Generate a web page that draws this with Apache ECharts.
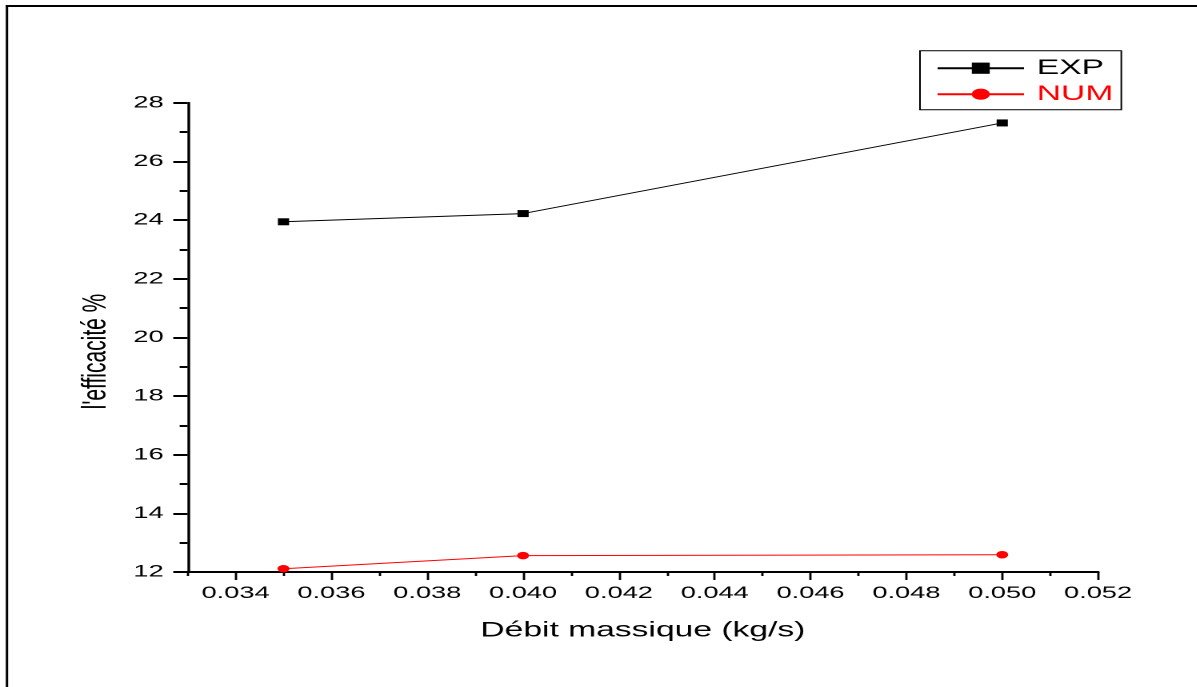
<!DOCTYPE html>
<html>
<head>
<meta charset="utf-8">
<script src="https://cdn.jsdelivr.net/npm/echarts@6/dist/echarts.min.js"></script>
<style>
  html, body { margin: 0; padding: 0; background: #fff; overflow: hidden; }
  /* the plot is laid out narrow and stretched sideways to the page width */
  #chart { width: 748.125px; height: 687px; transform: scaleX(1.6); transform-origin: 0 0; }
</style>
</head>
<body>
<div id="chart"></div>
<script>
// mass flow rate (kg/s)
const debit = [0.035, 0.040, 0.050];
// efficiency (%)
const expValues = [23.94, 24.22, 27.31];
const numValues = [12.11, 12.56, 12.59];
// x-axis ticks
const xMajorTicks = [0.034, 0.036, 0.038, 0.040, 0.042, 0.044, 0.046, 0.048, 0.050, 0.052];
const xMinorTicks = [0.033, 0.035, 0.037, 0.039, 0.041, 0.043, 0.045, 0.047, 0.049, 0.051];

const FONT = 'Liberation Sans, Arial, sans-serif';
const chart = echarts.init(document.getElementById('chart'), null, { renderer: 'canvas', devicePixelRatio: 2 });

const pairs = (ys) => debit.map((x, i) => [x, ys[i]]);

chart.setOption({
  backgroundColor: '#fff',
  animation: false,
  grid: { left: 117.3, right: 61.7, top: 102.7, bottom: 115, containLabel: false, outerBoundsMode: 'none' },
  legend: {
    orient: 'vertical',
    left: 575,
    top: 50.7,
    padding: [7, 5, 5, 10],
    itemWidth: 54,
    itemHeight: 14,
    itemGap: 5,
    borderColor: '#000',
    borderWidth: 1,
    textStyle: { fontFamily: FONT, fontSize: 21, lineHeight: 18, padding: [0, 0, 0, 3] },
    data: [
      { name: 'EXP', textStyle: { color: '#000' } },
      { name: 'NUM', textStyle: { color: '#ff0000' } }
    ]
  },
  xAxis: [
    {
      type: 'value',
      min: 0.033,
      max: 0.052,
      position: 'bottom',
      name: 'Débit massique (kg/s)',
      nameLocation: 'middle',
      nameGap: 48,
      nameTextStyle: { fontFamily: FONT, fontSize: 21, color: '#000' },
      axisLine: { show: true, onZero: false, lineStyle: { color: '#000', width: 2 } },
      axisTick: { show: true, inside: false, length: 8, customValues: xMajorTicks, lineStyle: { color: '#000', width: 1.4 } },
      axisLabel: {
        show: true, margin: 13, customValues: xMajorTicks,
        fontFamily: FONT, fontSize: 17, color: '#000',
        formatter: (v) => v.toFixed(3)
      },
      splitLine: { show: false }
    },
    {
      type: 'value',
      min: 0.033,
      max: 0.052,
      position: 'bottom',
      axisLine: { show: false, onZero: false },
      axisTick: { show: true, inside: false, length: 4, customValues: xMinorTicks, lineStyle: { color: '#000', width: 1.4 } },
      axisLabel: { show: false },
      splitLine: { show: false }
    }
  ],
  yAxis: {
    type: 'value',
    min: 12,
    max: 28,
    interval: 2,
    axisLine: { show: true, onZero: false, lineStyle: { color: '#000', width: 1.7 } },
    axisTick: { show: true, inside: false, length: 9, lineStyle: { color: '#000', width: 2 } },
    minorTick: { show: true, splitNumber: 2, length: 5, lineStyle: { color: '#000', width: 2 } },
    axisLabel: { margin: 15, fontFamily: FONT, fontSize: 17, color: '#000' },
    splitLine: { show: false },
    minorSplitLine: { show: false }
  },
  graphic: [
    // frame
    { type: 'rect', shape: { x: 3.6, y: 5, width: 760, height: 2 }, style: { fill: '#000' }, silent: true },
    { type: 'rect', shape: { x: 3.6, y: 5, width: 1.5, height: 700 }, style: { fill: '#000' }, silent: true },
    // y-axis title
    {
      type: 'text',
      x: 60,
      y: 351.5,
      rotation: Math.PI / 2,
      style: {
        text: "l'efficacité %",
        fontFamily: FONT,
        fontSize: 21,
        fill: '#000',
        align: 'center',
        verticalAlign: 'middle'
      }
    }
  ],
  series: [
    {
      name: 'EXP',
      type: 'line',
      xAxisIndex: 0,
      data: pairs(expValues),
      symbol: 'rect',
      symbolSize: [7, 7],
      showAllSymbol: true,
      lineStyle: { color: '#000', width: 1 },
      itemStyle: { color: '#000' }
    },
    {
      name: 'NUM',
      type: 'line',
      xAxisIndex: 0,
      data: pairs(numValues),
      symbol: 'circle',
      symbolSize: [7.5, 7.5],
      showAllSymbol: true,
      lineStyle: { color: '#ff0000', width: 1 },
      itemStyle: { color: '#ff0000' }
    }
  ]
});
</script>
</body>
</html>
